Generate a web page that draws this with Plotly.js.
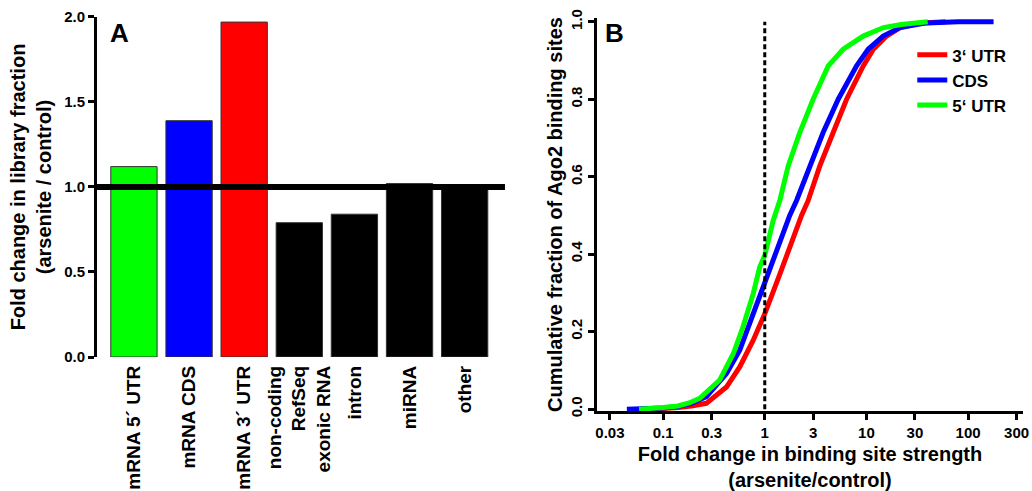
<!DOCTYPE html>
<html>
<head>
<meta charset="utf-8">
<script src="https://cdn.plot.ly/plotly-3.0.1.min.js"></script>
<style>html,body{margin:0;padding:0;background:#fff;}#chart{width:1032px;height:491px;}</style>
</head>
<body>
<div id="chart"></div>
<script>
// Panel A data
const categories = ['mRNA 5´ UTR', 'mRNA CDS', 'mRNA 3´ UTR', 'non-coding<br>RefSeq<br>exonic RNA', 'intron', 'miRNA', 'other'];
const foldChange = [1.12, 1.39, 1.97, 0.79, 0.84, 1.02, 0.99];
const barColors = ['#00ff00', '#0000ff', '#ff0000', '#000000', '#000000', '#000000', '#000000'];

// Panel B data (cumulative distributions)
const utr3X = [0.08, 0.1, 0.14, 0.19, 0.266, 0.42, 0.567, 0.77, 1.0, 1.41, 2.05, 2.30, 2.67, 3.48, 4.71, 6.38, 9.3, 11.7, 15.8, 21.4, 35, 60];
const utr3Y = [0, 0.001, 0.004, 0.008, 0.015, 0.057, 0.109, 0.178, 0.246, 0.349, 0.469, 0.5, 0.538, 0.628, 0.714, 0.80, 0.886, 0.929, 0.963, 0.985, 0.997, 1.0];
const cdsX = [0.044, 0.07, 0.1, 0.14, 0.19, 0.266, 0.42, 0.567, 0.77, 1.0, 1.41, 1.76, 2.05, 2.77, 3.75, 5.28, 8.0, 10.4, 14.6, 21.4, 39, 80, 178];
const cdsY = [0, 0.001, 0.003, 0.007, 0.015, 0.032, 0.092, 0.152, 0.246, 0.324, 0.435, 0.5, 0.538, 0.628, 0.714, 0.80, 0.886, 0.929, 0.963, 0.985, 0.997, 1.0, 1.0];
const utr5X = [0.058, 0.08, 0.1, 0.14, 0.18, 0.229, 0.36, 0.49, 0.61, 0.77, 0.89, 1.0, 1.21, 1.41, 1.70, 2.21, 2.99, 4.21, 5.91, 9.3, 14.7, 22, 33.7, 40];
const utr5Y = [0, 0.001, 0.004, 0.008, 0.016, 0.028, 0.075, 0.143, 0.212, 0.298, 0.366, 0.397, 0.487, 0.54, 0.628, 0.714, 0.80, 0.886, 0.929, 0.963, 0.985, 0.993, 0.997, 1.0];
const seriesNames = ['3‘ UTR', 'CDS', '5‘ UTR'];
const xTickVals = [0.03, 0.1, 0.3, 1, 3, 10, 30, 100, 300];
const xTickText = ['0.03', '0.1', '0.3', '1', '3', '10', '30', '100', '300'];
const yTickValsB = [0, 0.2, 0.4, 0.6, 0.8, 1.0];
const yTickTextB = ['0.0', '0.2', '0.4', '0.6', '0.8', '1.0'];
const yTickValsA = [0, 0.5, 1.0, 1.5, 2.0];
const yTickTextA = ['0.0', '0.5', '1.0', '1.5', '2.0'];

const FAM = 'Liberation Sans, Arial, Helvetica, sans-serif';
const bold = (size) => ({family: FAM, size: size, color: '#000', weight: 'bold'});

const traces = [
  {
    type: 'bar', x: categories, y: foldChange, xaxis: 'x', yaxis: 'y',
    marker: {color: barColors, line: {color: '#333', width: 1}},
    showlegend: false, hoverinfo: 'skip'
  },
  {
    type: 'scatter', mode: 'lines', x: utr3X, y: utr3Y, xaxis: 'x2', yaxis: 'y2',
    name: seriesNames[0], line: {color: '#ff0000', width: 5}
  },
  {
    type: 'scatter', mode: 'lines', x: cdsX, y: cdsY, xaxis: 'x2', yaxis: 'y2',
    name: seriesNames[1], line: {color: '#0000ff', width: 5}
  },
  {
    type: 'scatter', mode: 'lines', x: utr5X, y: utr5Y, xaxis: 'x2', yaxis: 'y2',
    name: seriesNames[2], line: {color: '#00ff00', width: 5}
  },
  {
    type: 'scatter', mode: 'lines', x: [1, 1], y: [0, 1], xaxis: 'x2', yaxis: 'y2',
    line: {color: '#000', width: 3, dash: '5px,3px'}, showlegend: false, hoverinfo: 'skip'
  }
];

const layout = {
  width: 1032, height: 491,
  margin: {l: 0, r: 0, t: 0, b: 0},
  paper_bgcolor: '#fff', plot_bgcolor: 'rgba(0,0,0,0)',
  font: bold(15),
  showlegend: true,
  bargap: 0.16,
  xaxis: {
    domain: [0.094, 0.4903], type: 'category', range: [-0.67, 6.75],
    showline: false, ticks: '', showgrid: false, zeroline: false,
    tickangle: -90, tickfont: bold(19), ticklabelstandoff: 4, fixedrange: true
  },
  yaxis: {
    domain: [0.2729, 0.9654], range: [0, 2],
    showline: true, linewidth: 3, linecolor: '#000',
    ticks: 'outside', ticklen: 6, tickwidth: 3, tickcolor: '#000',
    tickvals: yTickValsA, ticktext: yTickTextA, tickfont: bold(15),
    showgrid: false, zeroline: false,
    title: {text: 'Fold change in library fraction<br>(arsenite / control)', font: bold(20), standoff: 8}
  },
  xaxis2: {
    domain: [0.5785, 0.9913], type: 'log', range: [-1.65, 2.54],
    anchor: 'y2',
    showline: true, linewidth: 3, linecolor: '#000',
    ticks: 'outside', ticklen: 6, tickwidth: 3, tickcolor: '#000',
    tickvals: xTickVals, ticktext: xTickText, tickfont: bold(15),
    showgrid: false, zeroline: false,
    title: {text: 'Fold change in binding site strength<br>(arsenite/control)', font: bold(20), standoff: 8}
  },
  yaxis2: {
    domain: [0.1628, 0.9636], range: [-0.005, 1.01], anchor: 'x2',
    showline: true, linewidth: 3, linecolor: '#000',
    ticks: 'outside', ticklen: 6, tickwidth: 3, tickcolor: '#000',
    tickvals: yTickValsB, ticktext: yTickTextB, tickfont: bold(15), tickangle: -90,
    showgrid: false, zeroline: false,
    title: {text: 'Cumulative fraction of Ago2 binding sites', font: bold(20), standoff: 1}
  },
  legend: {
    x: 0.884, y: 0.924, xanchor: 'left', yanchor: 'top',
    font: bold(17), bgcolor: 'rgba(0,0,0,0)', borderwidth: 0,
    tracegroupgap: 0, itemwidth: 30
  },
  shapes: [
    {type: 'line', xref: 'paper', yref: 'y', x0: 0.094, x1: 0.4893, y0: 1, y1: 1,
     line: {color: '#000', width: 6}, layer: 'above'}
  ],
  annotations: [
    {text: 'A', xref: 'paper', yref: 'paper', x: 0.1158, y: 0.9338, xanchor: 'center', yanchor: 'middle', showarrow: false, font: bold(26)},
    {text: 'B', xref: 'paper', yref: 'paper', x: 0.5955, y: 0.9338, xanchor: 'center', yanchor: 'middle', showarrow: false, font: bold(26)}
  ]
};

Plotly.newPlot('chart', traces, layout, {displayModeBar: false, staticPlot: true});
</script>
</body>
</html>
